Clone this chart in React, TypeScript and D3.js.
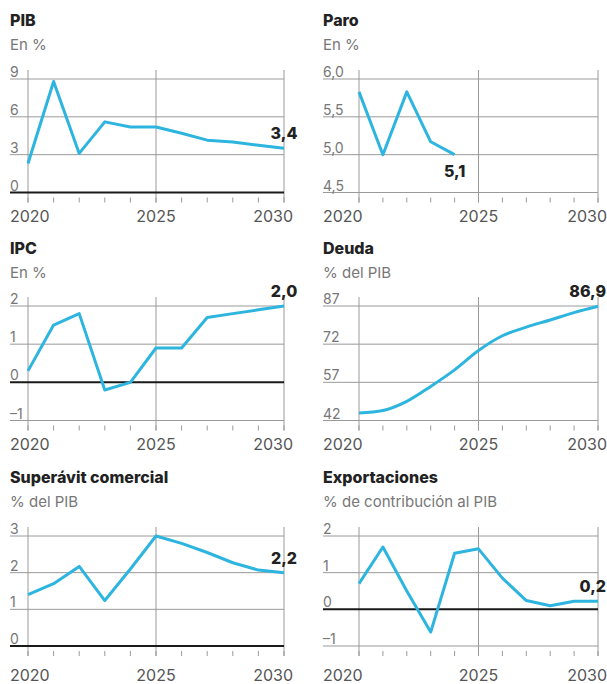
import React from 'react';
import * as d3 from 'd3';

const years = [2020, 2021, 2022, 2023, 2024, 2025, 2026, 2027, 2028, 2029, 2030];
const axisYears = [2020, 2025, 2030];

const pib = [2.3, 8.8, 3.1, 5.6, 5.2, 5.2, 4.7, 4.15, 4.0, 3.75, 3.5];
const paro = [5.83, 5.0, 5.83, 5.17, 5.0];
const ipc = [0.3, 1.5, 1.8, -0.2, 0.0, 0.9, 0.9, 1.7, 1.8, 1.9, 2.0];
const deuda = [44.9, 45.9, 49.5, 55.4, 61.9, 69.5, 75.3, 78.7, 81.5, 84.4, 86.9];
const superavit = [1.4, 1.7, 2.17, 1.24, 2.1, 3.0, 2.8, 2.55, 2.27, 2.07, 2.0];
const exportaciones = [0.7, 1.7, 0.5, -0.62, 1.53, 1.65, 0.85, 0.24, 0.1, 0.22, 0.22];

const pibTicks = [0, 3, 6, 9];
const paroTicks = [4.5, 5, 5.5, 6];
const ipcTicks = [-1, 0, 1, 2];
const deudaTicks = [42, 57, 72, 87];
const superavitTicks = [0, 1, 2, 3];
const exportTicks = [-1, 0, 1, 2];

const fmt = (v: number, dec: number) => {
  const s = v.toFixed(dec).replace('.', ',');
  return v < 0 ? s.replace('-', '–') : s;
};

// layout of the grid of small multiples
const cols = [
  { gx: 10, x0: 28, x1: 284 },
  { gx: 323, x0: 359, x1: 598 },
];
const rows = [
  { titleY: 26, top: 79, bottom: 192.5, labelY: 222 },
  { titleY: 254, top: 306, bottom: 420.5, labelY: 450 },
  { titleY: 483, top: 536, bottom: 646, labelY: 681 },
];

const panels = [
  { title: 'PIB', sub: 'En %', data: pib, ticks: pibTicks, dec: 0, label: '3,4', pos: 'above', col: 0, row: 0, smooth: false },
  { title: 'Paro', sub: 'En %', data: paro, ticks: paroTicks, dec: 1, label: '5,1', pos: 'below', col: 1, row: 0, smooth: false },
  { title: 'IPC', sub: 'En %', data: ipc, ticks: ipcTicks, dec: 0, label: '2,0', pos: 'above', col: 0, row: 1, smooth: false },
  { title: 'Deuda', sub: '% del PIB', data: deuda, ticks: deudaTicks, dec: 0, label: '86,9', pos: 'edge', col: 1, row: 1, smooth: true },
  { title: 'Superávit comercial', sub: '% del PIB', data: superavit, ticks: superavitTicks, dec: 0, label: '2,2', pos: 'above', col: 0, row: 2, smooth: false },
  { title: 'Exportaciones', sub: '% de contribución al PIB', data: exportaciones, ticks: exportTicks, dec: 0, label: '0,2', pos: 'edge', col: 1, row: 2, smooth: false },
];

const font = 'Inter, Roboto, "Liberation Sans", sans-serif';
const lineColor = '#2db5df';
const gridColor = '#9a9a9a';

function Panel({ p }: { p: (typeof panels)[number] }) {
  const c = cols[p.col];
  const r = rows[p.row];
  const x = d3.scaleLinear().domain([2020, 2030]).range([c.x0, c.x1]);
  const y = d3
    .scaleLinear()
    .domain([p.ticks[0], p.ticks[p.ticks.length - 1]])
    .range([r.bottom, r.top]);

  const line = d3
    .line<number>()
    .x((d, i) => x(years[i]))
    .y(d => y(d))
    .curve(p.smooth ? d3.curveMonotoneX : d3.curveLinear);

  const last = p.data.length - 1;
  const lx = x(years[last]);
  const ly = y(p.data[last]);

  return (
    <g>
      <text x={c.gx} y={r.titleY} fontSize={16} fontWeight={800} fill="#222">
        {p.title}
      </text>
      <text x={c.gx} y={r.titleY + 24} fontSize={15} fill="#777">
        {p.sub}
      </text>

      {/* vertical guides */}
      {axisYears.map(yr => (
        <line key={yr} x1={x(yr)} x2={x(yr)} y1={r.top - 9} y2={r.bottom + 10} stroke={gridColor} strokeWidth={1} />
      ))}
      {years.map(yr => (
        <line key={'t' + yr} x1={x(yr)} x2={x(yr)} y1={r.bottom + 5} y2={r.bottom + 10} stroke={gridColor} strokeWidth={1} />
      ))}

      {/* horizontal grid */}
      {p.ticks.map(t => (
        <g key={t}>
          <line
            x1={c.gx}
            x2={c.x1}
            y1={y(t)}
            y2={y(t)}
            stroke={t === 0 ? '#1a1a1a' : gridColor}
            strokeWidth={t === 0 ? 2 : 1}
          />
          <text x={c.gx} y={y(t) - 2} fontSize={14} fill="#777">
            {fmt(t, p.dec)}
          </text>
        </g>
      ))}

      <path d={line(p.data) || ''} fill="none" stroke={lineColor} strokeWidth={3} strokeLinejoin="round" />

      <text
        x={p.pos === 'edge' ? 606 : lx}
        y={p.pos === 'below' ? ly + 22 : ly - 9}
        textAnchor={p.pos === 'edge' ? 'end' : 'middle'}
        fontSize={16}
        fontWeight={800}
        fill="#222"
      >
        {p.label}
      </text>

      {axisYears.map((yr, i) => (
        <text
          key={'l' + yr}
          x={i === 0 ? c.gx : i === 2 ? x(yr) + 9 : x(yr)}
          y={r.labelY}
          textAnchor={i === 0 ? 'start' : i === 2 ? 'end' : 'middle'}
          fontSize={16}
          fill="#555"
        >
          {yr}
        </text>
      ))}
    </g>
  );
}

export default function App() {
  return (
    <svg
      width={607}
      height={684}
      style={{ position: 'absolute', left: 0, top: 0, background: '#fff', fontFamily: font }}
    >
      {panels.map(p => (
        <Panel key={p.title} p={p} />
      ))}
    </svg>
  );
}
